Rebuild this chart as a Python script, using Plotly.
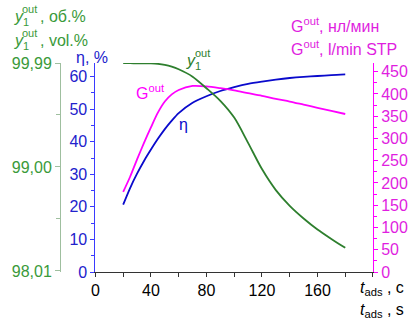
import plotly.graph_objects as go

# ---- data ----
t_ads = [20, 25, 30, 35, 40, 45, 50, 55, 60, 70, 80, 90, 100, 110, 120, 130, 140, 150, 160, 170, 180]
eta = [20.7, 25.8, 30.2, 34.1, 37.6, 40.9, 43.9, 46.5, 48.8, 52.0, 54.0, 55.6, 56.8, 57.8, 58.5, 59.1, 59.6, 59.95, 60.2, 60.5, 60.7]
g_out = [180, 214, 253, 290, 325, 358, 383, 399, 409, 418, 417, 413, 408, 402, 396, 389, 383, 376, 369, 362, 355]
y1_out = [99.988, 99.988, 99.987, 99.987, 99.986, 99.982, 99.972, 99.955, 99.93, 99.86, 99.75, 99.63, 99.47, 99.23, 98.98, 98.78, 98.63, 98.51, 98.405, 98.315, 98.23]

x_ticks = [0, 40, 80, 120, 160]
eta_ticks = [0, 10, 20, 30, 40, 50, 60]
g_ticks = [0, 50, 100, 150, 200, 250, 300, 350, 400, 450]
y1_ticks = [98.01, 99.00, 99.99]
y1_ticktext = ["98,01", "99,00", "99,99"]

# ---- geometry ----
W, H = 420, 322
ML, MR, MT, MB = 53, 40, 63, 50
PW = W - ML - MR
PH = H - MT - MB
x_start = (90 - ML) / PW

def px(x):
    return (x - ML) / PW

def py(y):
    return (H - MB - y) / PH

GREEN_LINE = "#2e7f2e"
GREEN_TXT = "#3a9a3a"
GREEN_AX = "#9fbf9f"
BLUE_LINE = "#0a0acc"
BLUE_TXT = "#2222cc"
BLUE_AX = "#3a3aff"
MAG = "#ff00ff"
MAG_TXT = "#e01ee0"
FONT = "Liberation Sans, Arial, sans-serif"

fig = go.Figure()
fig.add_trace(go.Scatter(x=t_ads, y=eta, mode="lines", line=dict(color=BLUE_LINE, width=1.8, shape="spline", smoothing=0.8),
                         yaxis="y", showlegend=False))
fig.add_trace(go.Scatter(x=t_ads, y=g_out, mode="lines", line=dict(color=MAG, width=1.8, shape="spline", smoothing=0.8),
                         yaxis="y2", showlegend=False))
fig.add_trace(go.Scatter(x=t_ads, y=y1_out, mode="lines", line=dict(color=GREEN_LINE, width=1.8, shape="spline", smoothing=0.8),
                         yaxis="y3", showlegend=False))

annotations = []

def ann(text, x, y, color, size=16, xanchor="left", yanchor="middle"):
    annotations.append(dict(text=text, x=px(x), y=py(y), xref="paper", yref="paper",
                            xanchor=xanchor, yanchor=yanchor, showarrow=False,
                            font=dict(color=color, size=size, family=FONT)))

def stacked_y(x, yc, color, rest=None):
    ann("<i>y</i>", x, yc, color, 16)
    ann("out", x + 8.5, yc - 8, color, 11)
    ann("1", x + 9, yc + 5, color, 11)
    if rest:
        ann(rest, x + 27, yc - 1, color, 16)

# green titles
stacked_y(3, 17, GREEN_TXT, ", об.%")
stacked_y(3, 41, GREEN_TXT, ", vol.%")
# blue title
ann("η, %", 68, 57, BLUE_TXT, 16)
# magenta titles
ann("G<sup>out</sup>, нл/мин", 292, 25, MAG_TXT, 16)
ann("G<sup>out</sup>, l/min STP", 292, 48, MAG_TXT, 16)
# x titles
ann("<i>t</i><sub>ads</sub> , c", 364, 288, "black", 16)
ann("<i>t</i><sub>ads</sub> , s", 364, 310, "black", 16)
# in-plot labels
stacked_y(183, 61, GREEN_LINE)
ann("G<sup>out</sup>", 130, 92, MAG, 16)
ann("η", 175, 124, BLUE_LINE, 16)

fig.update_layout(
    width=W, height=H,
    margin=dict(l=ML, r=MR, t=MT, b=MB, pad=0),
    paper_bgcolor="white", plot_bgcolor="white",
    font=dict(family=FONT, size=16),
    showlegend=False,
    annotations=annotations,
    xaxis=dict(domain=[x_start, 1], range=[0, 200], tickvals=x_ticks, ticks="outside", ticklen=4,
               tickcolor="#333", showline=True, linecolor="#333", linewidth=1,
               tickfont=dict(color="black", size=16), showgrid=False, zeroline=False,
               minor=dict(tickvals=[20, 60, 100, 140, 180, 200], ticks="outside", ticklen=4, tickcolor="#333")),
    yaxis=dict(range=[0, 64.2], tickvals=eta_ticks, ticks="outside", ticklen=4, tickcolor=BLUE_AX,
               showline=True, linecolor=BLUE_AX, linewidth=1, tickfont=dict(color=BLUE_TXT, size=16),
               showgrid=False, zeroline=False, anchor="x",
               minor=dict(dtick=5, ticks="outside", ticklen=3, tickcolor=BLUE_AX)),
    yaxis2=dict(range=[0, 469.6], tickvals=g_ticks, ticks="outside", ticklen=4, tickcolor=MAG,
                showline=True, linecolor=MAG, linewidth=1, tickfont=dict(color=MAG_TXT, size=16),
                showgrid=False, zeroline=False, overlaying="y", side="right", anchor="x",
                minor=dict(dtick=25, ticks="outside", ticklen=3, tickcolor=MAG)),
    yaxis3=dict(range=[98.0, 99.99], tickvals=y1_ticks, ticktext=y1_ticktext, ticks="outside", ticklen=5,
                tickcolor=GREEN_AX, showline=True, linecolor=GREEN_AX, linewidth=1,
                tickfont=dict(color=GREEN_TXT, size=16), showgrid=False, zeroline=False,
                overlaying="y", side="left", anchor="free", position=0,
                minor=dict(tickvals=[98.505, 99.495], ticks="outside", ticklen=4, tickcolor=GREEN_AX)),
)

fig.write_html("out.html", config={"displayModeBar": False},
               post_script="document.body.style.margin='0';document.body.style.overflow='hidden';")
